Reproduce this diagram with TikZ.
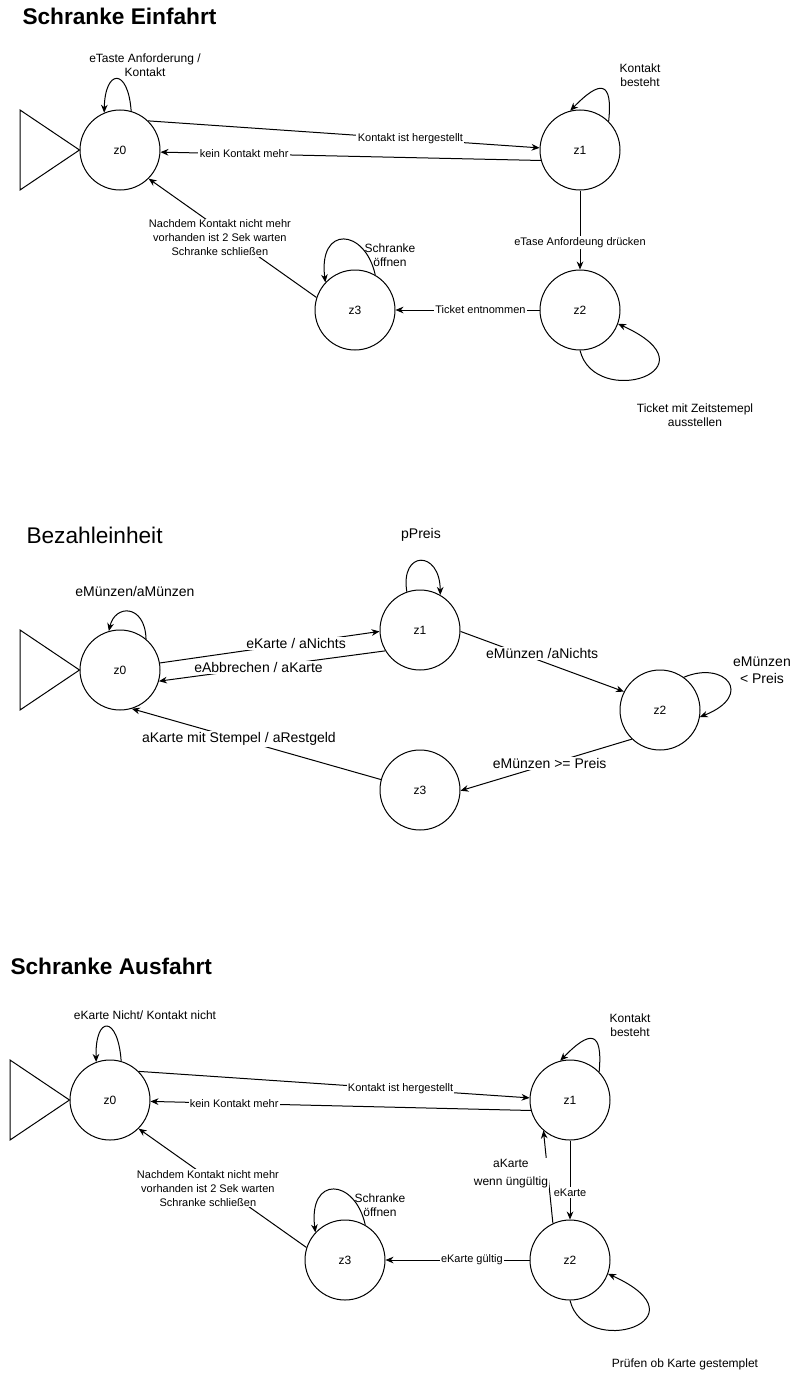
\documentclass[tikz,border=0pt]{standalone}
\usepackage{fontspec}
\setmainfont{Liberation Sans}
\usetikzlibrary{arrows.meta}
\begin{document}
\begin{tikzpicture}[x=0.75pt,y=-0.75pt,line width=0.75pt,
  state/.style={circle,draw,minimum size=60pt,inner sep=0pt,font=\fontsize{9}{10.5}\selectfont},
  arr/.style={-{Stealth[length=6pt,width=5pt]}},
  lbl/.style={fill=white,inner sep=1pt,align=center,font=\fontsize{8.25}{10.5}\selectfont},
  lbltwo/.style={fill=white,inner sep=1pt,align=center,font=\fontsize{10.5}{12.75}\selectfont},
  loopl/.style={inner sep=1pt,align=center,font=\fontsize{9}{10.5}\selectfont},
  looptwo/.style={inner sep=1pt,align=center,font=\fontsize{10.5}{12.75}\selectfont},
  title/.style={anchor=west,inner sep=0pt,font=\fontsize{17}{20}\selectfont}]
\useasboundingbox[fill=white] (0,0) rectangle (791,1391);

% ---------------- Schranke Einfahrt ----------------
\node[title,font=\fontsize{17}{20}\selectfont\bfseries] (t1) at (22,16) {Schranke Einfahrt};
\node[state] (a0) at (120,150) {z0};
\node[state] (a1) at (580,150) {z1};
\node[state] (a2) at (580,310) {z2};
\node[state] (a3) at (355,310) {z3};
\draw (20,110) -- (a0.west) -- (20,190) -- cycle;
\draw[arr] (a0.46) -- node[lbl,pos=0.67] (ea01) {Kontakt ist hergestellt} (a1.177);
\draw[arr] (a1.195) -- node[lbl,pos=0.78] (ea10) {kein Kontakt mehr} (a0.-3);
\draw[arr] (a0.74) .. controls (128,67) and (105,69) .. (a0.113);
\node[loopl] (la0) at (145,65) {eTaste Anforderung /\\Kontakt};
\draw[arr] (a1.45) .. controls (613,80) and (600,80) .. (a1.104);
\node[loopl] (la1) at (640,75) {Kontakt\\besteht};
\draw[arr] (a1.south) -- node[lbl,pos=0.66] (ea12) {eTase Anfordeung drücken} (a2.north);
\draw[arr] (a2.west) -- node[lbl,pos=0.41] (ea23) {Ticket entnommen} (a3.east);
\draw[arr] (a2.south) .. controls (595,410) and (720,370) .. (a2.-20);
\node[loopl] (la2) at (695,415) {Ticket mit Zeitstemepl\\ausstellen};
\draw[arr] (a3.60) .. controls (365,228) and (318,225) .. (a3.137);
\node[loopl] (la3) at (390,255) {Schranke\\öffnen};
\draw[arr] (a3.162) -- node[lbl,pos=0.5,xshift=-9.5pt] (ea30) {Nachdem Kontakt nicht mehr\\vorhanden ist 2 Sek warten\\Schranke schließen} (a0.-45);

% ---------------- Bezahleinheit ----------------
\node[title] (t2) at (26,535) {Bezahleinheit};
\node[state] (b0) at (120,670) {z0};
\node[state] (b1) at (420,630) {z1};
\node[state] (b2) at (660,710) {z2};
\node[state] (b3) at (420,790) {z3};
\draw (20,630) -- (b0.west) -- (20,710) -- cycle;
\draw[arr] (b0.10) -- node[lbltwo,pos=0.62] (eb01) {eKarte / aNichts} (b1.182);
\draw[arr] (b1.211) -- node[lbltwo,pos=0.56] (eb10) {eAbbrechen / aKarte} (b0.-16);
\draw[arr] (b0.50) .. controls (145,604) and (115,604) .. (b0.106);
\node[looptwo] (lb0) at (135,591) {eMünzen/aMünzen};
\draw[arr] (b1.109) .. controls (400,550) and (440,550) .. (b1.60);
\node[looptwo] (lb1) at (421,535) {pPreis};
\draw[arr] (b1.-2) -- node[lbltwo,pos=0.5,yshift=6pt] (eb12) {eMünzen /aNichts} (b2.153);
\draw[arr] (b2.54) .. controls (725,660) and (755,695) .. (b2.-10);
\node[looptwo] (lb2) at (762,670) {eMünzen\\< Preis};
\draw[arr] (b2.226) -- node[lbltwo,pos=0.48] (eb23) {eMünzen >= Preis} (b3.-1);
\draw[arr] (b3.165) -- node[lbltwo,pos=0.57] (eb30) {aKarte mit Stempel / aRestgeld} (b0.-73);

% ---------------- Schranke Ausfahrt ----------------
\node[title,font=\fontsize{17}{20}\selectfont\bfseries] (t3) at (10,966) {Schranke Ausfahrt};
\node[state] (c0) at (110,1100) {z0};
\node[state] (c1) at (570,1100) {z1};
\node[state] (c2) at (570,1260) {z2};
\node[state] (c3) at (345,1260) {z3};
\draw (10,1060) -- (c0.west) -- (10,1140) -- cycle;
\draw[arr] (c0.45) -- node[lbl,pos=0.67] (ec01) {Kontakt ist hergestellt} (c1.177);
\draw[arr] (c1.195) -- node[lbl,pos=0.78] (ec10) {kein Kontakt mehr} (c0.-2);
\draw[arr] (c0.74) .. controls (118,1015) and (95,1015) .. (c0.110);
\node[loopl] (lc0) at (145,1015) {eKarte Nicht/ Kontakt nicht};
\draw[arr] (c1.44) .. controls (603,1030) and (590,1030) .. (c1.104);
\node[loopl] (lc1) at (630,1025) {Kontakt\\besteht};
\draw[arr] (c1.south) -- node[lbl,pos=0.66] (ec12) {eKarte} (c2.north);
\draw[arr] (c2.115) -- node[loopl,fill=white,pos=0.54,anchor=east,xshift=1.5pt,font=\fontsize{9}{13.5}\selectfont] (ec21) {aKarte\\wenn üngültig} (c1.229);
\draw[arr] (c2.west) -- node[lbl,pos=0.4] (ec23) {eKarte gültig} (c3.east);
\draw[arr] (c2.south) .. controls (585,1360) and (710,1320) .. (c2.-20);
\node[loopl] (lc2) at (685,1364) {Prüfen ob Karte gestemplet};
\draw[arr] (c3.60) .. controls (355,1178) and (308,1175) .. (c3.137);
\node[loopl] (lc3) at (380,1205) {Schranke\\öffnen};
\draw[arr] (c3.162) -- node[lbl,pos=0.5,xshift=-11pt] (ec30) {Nachdem Kontakt nicht mehr\\vorhanden ist 2 Sek warten\\Schranke schließen} (c0.-45);
\end{tikzpicture}
\end{document}
